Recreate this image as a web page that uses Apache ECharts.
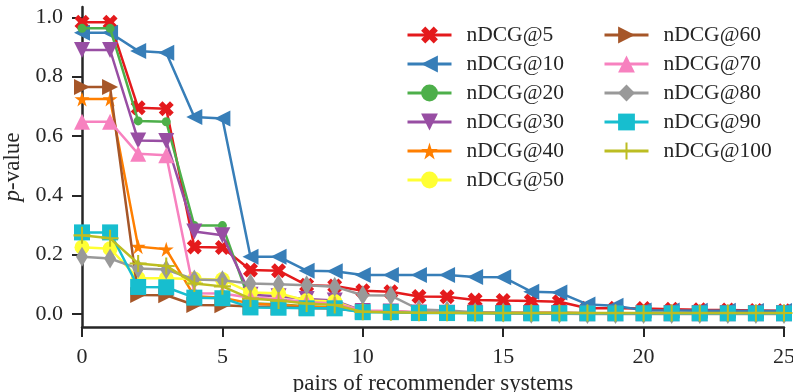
<!DOCTYPE html>
<html><head><meta charset="utf-8">
<script src="https://cdn.jsdelivr.net/npm/echarts@6/dist/echarts.min.js"></script>
<style>html,body{margin:0;padding:0;background:#fff}#c{width:793px;height:392px}</style>
</head><body><div id="c"></div>
<script>
// ---- data ----
const xValues = [0,1,2,3,4,5,6,7,8,9,10,11,12,13,14,15,16,17,18,19,20,21,22,23,24,25];
const seriesNames = ['nDCG@5','nDCG@10','nDCG@20','nDCG@30','nDCG@40','nDCG@50','nDCG@60','nDCG@70','nDCG@80','nDCG@90','nDCG@100'];
const nDCG5   = [0.984,0.984,0.695,0.692,0.226,0.224,0.148,0.146,0.097,0.094,0.078,0.075,0.059,0.058,0.047,0.045,0.044,0.041,0.019,0.019,0.018,0.016,0.014,0.013,0.012,0.011];
const nDCG10  = [0.948,0.948,0.887,0.881,0.664,0.659,0.193,0.193,0.146,0.144,0.131,0.131,0.131,0.131,0.125,0.124,0.075,0.072,0.032,0.028,0.012,0.012,0.011,0.011,0.010,0.010];
const nDCG20  = [0.963,0.963,0.651,0.648,0.298,0.298,0.035,0.033,0.025,0.022,0.008,0.007,0.005,0.004,0.004,0.003,0.003,0.003,0.002,0.002,0.002,0.002,0.002,0.002,0.002,0.002];
const nDCG30  = [0.890,0.890,0.585,0.583,0.278,0.265,0.065,0.060,0.050,0.045,0.010,0.008,0.005,0.004,0.004,0.003,0.003,0.003,0.002,0.002,0.002,0.002,0.002,0.002,0.002,0.002];
const nDCG40  = [0.725,0.725,0.227,0.218,0.060,0.055,0.035,0.030,0.025,0.022,0.010,0.008,0.005,0.004,0.004,0.003,0.003,0.003,0.002,0.002,0.002,0.002,0.002,0.002,0.002,0.002];
const nDCG50  = [0.225,0.220,0.120,0.120,0.118,0.116,0.072,0.070,0.045,0.042,0.008,0.006,0.004,0.004,0.003,0.003,0.003,0.003,0.002,0.002,0.002,0.002,0.002,0.002,0.002,0.002];
const nDCG60  = [0.765,0.765,0.064,0.063,0.030,0.029,0.025,0.023,0.020,0.018,0.008,0.007,0.005,0.004,0.004,0.003,0.003,0.003,0.002,0.002,0.002,0.002,0.002,0.002,0.002,0.002];
const nDCG70  = [0.648,0.648,0.540,0.535,0.070,0.069,0.055,0.050,0.040,0.035,0.012,0.010,0.006,0.005,0.004,0.004,0.003,0.003,0.002,0.002,0.002,0.002,0.002,0.002,0.002,0.002];
const nDCG80  = [0.193,0.187,0.153,0.150,0.116,0.114,0.103,0.100,0.097,0.092,0.063,0.062,0.015,0.012,0.006,0.005,0.001,0.001,0.000,0.000,0.000,0.000,0.000,0.000,0.000,0.000];
const nDCG90  = [0.275,0.275,0.091,0.090,0.055,0.053,0.022,0.021,0.019,0.019,0.006,0.006,0.003,0.003,0.002,0.002,0.002,0.002,0.002,0.002,0.002,0.002,0.002,0.002,0.002,0.002];
const nDCG100 = [0.265,0.255,0.170,0.162,0.103,0.093,0.052,0.045,0.035,0.030,0.007,0.006,0.004,0.004,0.003,0.003,0.003,0.003,0.003,0.003,0.003,0.003,0.003,0.003,0.003,0.003];
const yTicks = [0.0,0.2,0.4,0.6,0.8,1.0];
const xTicks = [0,5,10,15,20,25];
const allValues = [nDCG5,nDCG10,nDCG20,nDCG30,nDCG40,nDCG50,nDCG60,nDCG70,nDCG80,nDCG90,nDCG100];

// ---- styles ----
const X_PATH = 'path://M2.5,0L5,2.5L7.5,0L10,2.5L7.5,5L10,7.5L7.5,10L5,7.5L2.5,10L0,7.5L2.5,5L0,2.5Z';
const STAR_PATH = 'path://M50,0L61.17,34.63L97.55,34.55L68.07,55.87L79.39,90.45L50,69L20.61,90.45L31.93,55.87L2.45,34.55L38.83,34.63Z';
const PLUS_PATH = 'path://M4.4,0H5.6V4.4H10V5.6H5.6V10H4.4V5.6H0V4.4H4.4Z';
const styles = [
  {color:'#e41a1c', symbol:X_PATH, size:15, rot:0},
  {color:'#377eb8', symbol:'triangle', size:16, rot:90},
  {color:'#4daf4a', symbol:'circle', size:9, rot:0},
  {color:'#984ea3', symbol:'triangle', size:16, rot:180},
  {color:'#ff7f00', symbol:STAR_PATH, size:15, rot:0},
  {color:'#ffff33', symbol:'circle', size:15, rot:0},
  {color:'#a65628', symbol:'triangle', size:16, rot:-90},
  {color:'#f781bf', symbol:'triangle', size:16, rot:0},
  {color:'#999999', symbol:'diamond', size:[12,20], rot:0},
  {color:'#17becf', symbol:'rect', size:16, rot:0},
  {color:'#bcbd22', symbol:PLUS_PATH, size:17, rot:0}
];
const FONT = 'Liberation Serif';
const DARK = '#262626';

const series = seriesNames.map((name, k) => ({
  name: name,
  type: 'line',
  data: xValues.map((x, i) => [x, allValues[k][i]]),
  symbol: styles[k].symbol,
  symbolSize: styles[k].size,
  symbolRotate: styles[k].rot,
  symbolKeepAspect: false,
  showSymbol: true,
  clip: true,
  lineStyle: {color: styles[k].color, width: 2.5},
  itemStyle: {color: styles[k].color, opacity: 1},
  emphasis: {disabled: true},
  z: 2 + k * 0.01
}));

const legendCommon = {
  orient: 'vertical',
  top: 19,
  itemWidth: 44,
  itemHeight: 21,
  itemGap: 7,
  lineStyle: {width: 3},
  textStyle: {fontFamily: FONT, fontSize: 21.5, color: DARK, lineHeight: 20, padding: [0,0,0,10]},
  selectedMode: false
};

const chart = echarts.init(document.getElementById('c'), null, {renderer: 'canvas'});
chart.setOption({
  animation: false,
  backgroundColor: '#fff',
  grid: {left: 82, right: 9, top: 7, bottom: 65, containLabel: false, outerBoundsMode: 'none'},
  legend: [
    Object.assign({}, legendCommon, {left: 401, data: seriesNames.slice(0, 6)}),
    Object.assign({}, legendCommon, {left: 598, data: seriesNames.slice(6)})
  ],
  xAxis: {
    type: 'value', min: 0, max: 25, interval: 5,
    name: 'pairs of recommender systems', nameLocation: 'middle', nameGap: 42,
    nameTextStyle: {fontFamily: FONT, fontSize: 23, color: DARK},
    axisLine: {show: true, onZero: false, lineStyle: {color: DARK, width: 2.5}},
    axisTick: {show: true, length: 10, lineStyle: {color: DARK, width: 2}},
    axisLabel: {fontFamily: FONT, fontSize: 22, color: DARK, margin: 19,
      formatter: v => String(v)},
    splitLine: {show: false}
  },
  yAxis: {
    type: 'value', min: -0.044, max: 1.035,
    name: '{i|p}-value', nameLocation: 'middle', nameGap: 54, nameRotate: 90,
    nameTextStyle: {fontFamily: FONT, fontSize: 23, color: DARK,
      rich: {i: {fontFamily: FONT, fontSize: 23, fontStyle: 'italic', color: DARK}}},
    axisLine: {show: true, onZero: false, lineStyle: {color: DARK, width: 2.5}},
    axisTick: {show: true, length: 10, lineStyle: {color: DARK, width: 2}, customValues: yTicks},
    axisLabel: {fontFamily: FONT, fontSize: 22, color: DARK, margin: 19, customValues: yTicks,
      formatter: v => Number(v).toFixed(1)},
    splitLine: {show: false}
  },
  series: series
});
</script>
</body></html>
